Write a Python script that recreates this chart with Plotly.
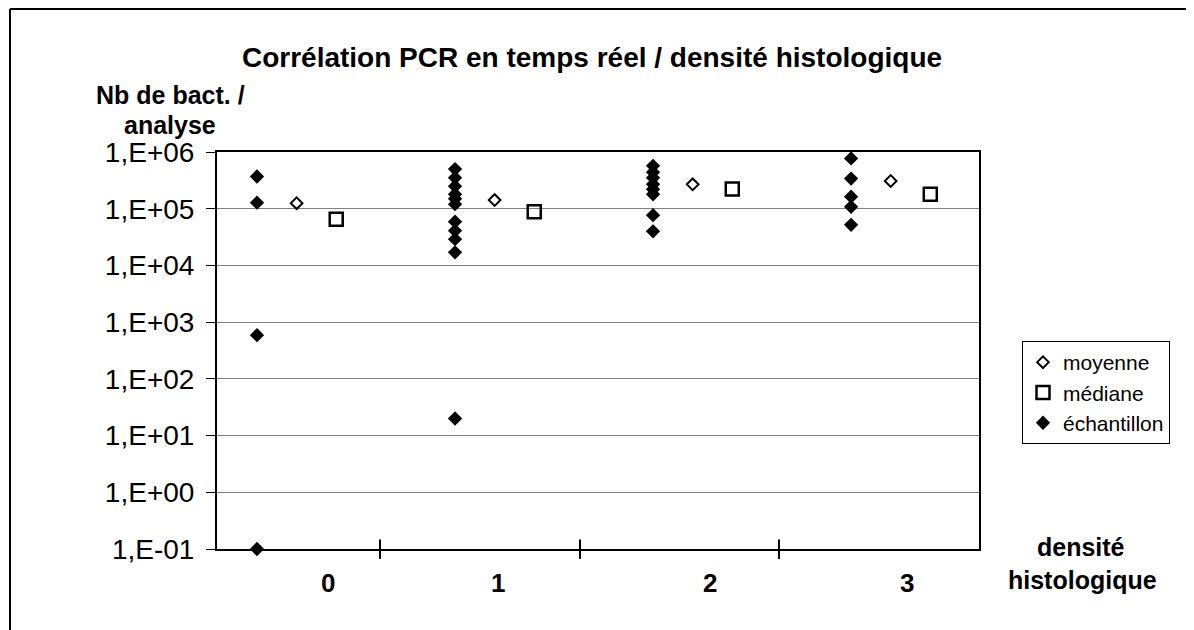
import plotly.graph_objects as go

# densité histologique groups
groups = [0, 1, 2, 3]
group_labels = ["0", "1", "2", "3"]

# échantillon values (Nb de bact. / analyse) per group
ech_0 = [3.7e5, 1.28e5, 5.9e2, 1e-1]
ech_1 = [5.0e5, 3.5e5, 2.5e5, 1.8e5, 1.5e5, 1.2e5, 5.9e4, 4.1e4, 2.9e4, 1.7e4, 2.0e1]
ech_2 = [5.7e5, 4.4e5, 3.5e5, 2.7e5, 2.2e5, 1.8e5, 7.7e4, 4.0e4]
ech_3 = [7.7e5, 3.4e5, 1.63e5, 1.08e5, 5.2e4]

moyenne = [1.25e5, 1.42e5, 2.69e5, 3.08e5]
mediane = [6.5e4, 8.85e4, 2.22e5, 1.79e5]

ytick_vals = [1e-1, 1e0, 1e1, 1e2, 1e3, 1e4, 1e5, 1e6]
ytick_text = ["1,E-01", "1,E+00", "1,E+01", "1,E+02", "1,E+03", "1,E+04", "1,E+05", "1,E+06"]

FONT = "Arial, Liberation Sans, sans-serif"

# page offset of the plot div (body margin)
OFF = 8

# Build échantillon x/y
echX = []
echY = []
for g, vals in zip(groups, [ech_0, ech_1, ech_2, ech_3]):
    for v in vals:
        echX.append(g)
        echY.append(v)

fig = go.Figure()
fig.add_trace(go.Scatter(
    x=[g + 0.2 for g in groups], y=moyenne, mode="markers", name="moyenne",
    marker=dict(symbol="diamond-open", size=9, color="black", line=dict(width=2, color="black")),
    cliponaxis=False))
fig.add_trace(go.Scatter(
    x=[g + 0.4 for g in groups], y=mediane, mode="markers", name="médiane",
    marker=dict(symbol="square-open", size=13, color="black", line=dict(width=2.5, color="black")),
    cliponaxis=False))
fig.add_trace(go.Scatter(
    x=echX, y=echY, mode="markers", name="échantillon",
    marker=dict(symbol="diamond", size=11, color="black"),
    cliponaxis=False))

W, H = 1194, 630
L = 217 - OFF
T = 152 - OFF
pw, ph = 762, 397
R = W - L - pw
B = H - T - ph

def px(x):
    return (x - OFF - L) / pw

def py(y):
    return (T + ph - (y - OFF)) / ph

# crossing tick marks on x axis
shapes = []
for t in [0.621, 1.631, 2.636]:
    shapes.append(dict(type="line", xref="x", yref="paper", x0=t, x1=t, y0=-0.025, y1=0.024,
                       line=dict(color="black", width=2)))
# outer chart frame (left and top visible)
shapes.append(dict(type="line", xref="paper", yref="paper", x0=px(10), x1=px(10), y0=py(640), y1=py(9),
                   line=dict(color="black", width=2)))
shapes.append(dict(type="line", xref="paper", yref="paper", x0=px(10), x1=px(1300), y0=py(9), y1=py(9),
                   line=dict(color="black", width=2)))

def label(x, y, text, size, xref="paper"):
    return dict(x=x, y=y, xref=xref, yref="paper", text="<b>" + text + "</b>",
                showarrow=False, xanchor="center", yanchor="middle",
                font=dict(size=size, family=FONT, color="black"))

annotations = []
# category labels
for pos, lab in zip([0.359, 1.217, 2.288, 3.283], group_labels):
    annotations.append(label(pos, py(583), lab, 26, xref="x"))
# y title
annotations.append(label(px(170), py(95), "Nb de bact. /", 25))
annotations.append(label(px(170), py(125), "analyse", 25))
# x title
annotations.append(label(px(1081), py(547), "densité", 25))
annotations.append(label(px(1082), py(580), "histologique", 25))

fig.update_layout(
    width=W, height=H,
    margin=dict(l=L, r=R, t=T, b=B),
    paper_bgcolor="white", plot_bgcolor="white",
    font=dict(family=FONT, color="black"),
    title=dict(text="<b>Corrélation PCR en temps réel / densité histologique</b>",
               x=(592 - OFF) / W, xanchor="center", y=1 - (57 - OFF) / H, yanchor="middle",
               font=dict(size=28, family=FONT, color="black")),
    showlegend=True,
    legend=dict(x=px(1022), y=py(341), xanchor="left", yanchor="top",
                bordercolor="black", borderwidth=1, bgcolor="white",
                font=dict(size=21, family=FONT, color="black"), itemwidth=30,
                tracegroupgap=0),
    shapes=shapes,
    annotations=annotations,
)
fig.update_xaxes(range=[-0.202, 3.646], showgrid=False, zeroline=False, showticklabels=False,
                 ticks="", showline=True, linecolor="black", linewidth=2, mirror=True)
fig.update_yaxes(type="log", range=[-1, 6], tickvals=ytick_vals, ticktext=ytick_text,
                 ticks="outside", ticklen=9, tickcolor="black", tickwidth=1,
                 ticklabelstandoff=6,
                 showgrid=True, gridcolor="#808080", gridwidth=1, zeroline=False,
                 showline=True, linecolor="black", linewidth=2, mirror=True,
                 tickfont=dict(size=28, family=FONT, color="black"))

fig.write_html("out.html")
